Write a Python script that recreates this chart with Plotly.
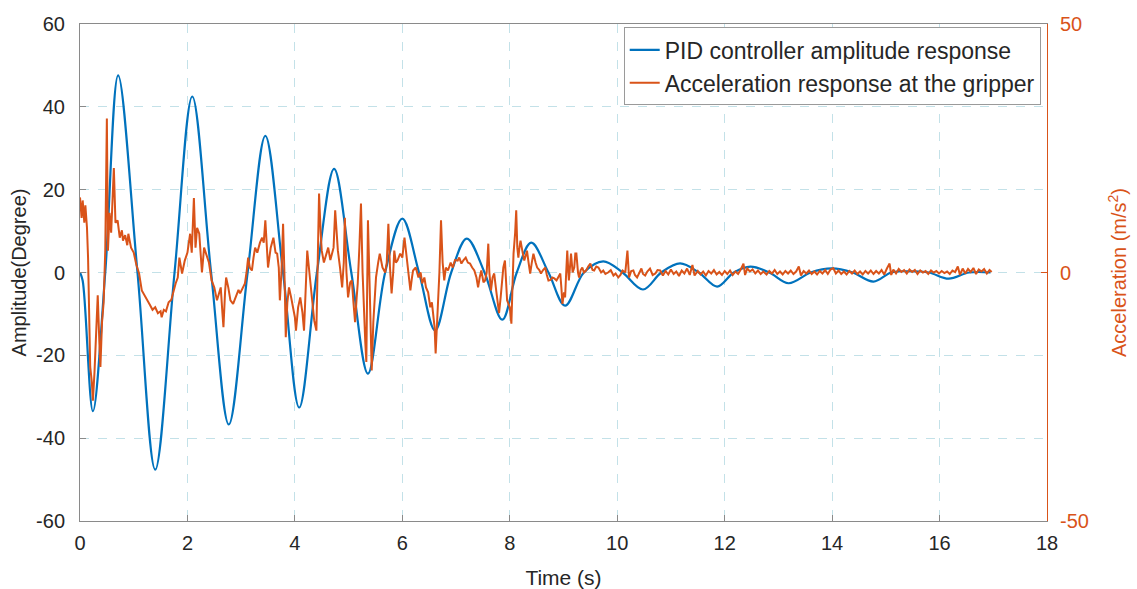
import plotly.graph_objects as go

# ---------------- data ----------------
# PID controller amplitude response (Degree) - extremes and zero crossings
t_pid = [0.00, 0.05, 0.24, 0.47, 0.71, 1.07, 1.40, 1.76, 2.09, 2.44,
         2.77, 3.12, 3.45, 3.78, 4.08, 4.41, 4.73, 5.05, 5.36, 5.68,
         6.00, 6.31, 6.61, 6.91, 7.20, 7.53, 7.86, 8.13, 8.40, 8.72,
         9.03, 9.38, 9.74, 10.10, 10.48, 10.82, 11.17, 11.52, 11.86, 12.17,
         12.48, 12.83, 13.19, 13.60, 14.00, 14.38, 14.77, 15.10, 15.45, 15.80,
         16.17, 16.55, 16.95]
amp_pid = [0, -2, -33.5, 0, 47.6, 0, -47.6, 0, 42.5, 0,
           -36.7, 0, 33, 0, -32.6, 0, 25, 0, -24.4, 0,
           13, 0, -14, 0, 8.2, 0, -11.4, 0, 7.2, 0,
           -8, 0, 2.7, 0, -4.1, 0, 2.2, 0, -3.4, 0,
           1.4, 0, -2.6, 0, 1.0, 0, -2.2, 0, 0.3, 0,
           -1.5, 0, 0]

# Acceleration response at the gripper (m/s^2)
t_acc = [0.00, 0.03, 0.05, 0.08, 0.10, 0.13, 0.15, 0.17, 0.19, 0.22,
         0.24, 0.27, 0.30, 0.33, 0.36, 0.38, 0.41, 0.44, 0.47, 0.50,
         0.52, 0.55, 0.58, 0.61, 0.63, 0.66, 0.70, 0.74, 0.78, 0.80,
         0.84, 0.88, 0.90, 0.95, 1.00, 1.05, 1.10, 1.15, 1.20, 1.25,
         1.30, 1.35, 1.40, 1.45, 1.50, 1.52, 1.56, 1.60, 1.65, 1.70,
         1.74, 1.78, 1.82, 1.85, 1.90, 1.95, 2.00, 2.05, 2.08, 2.12,
         2.15, 2.18, 2.22, 2.27, 2.31, 2.35, 2.40, 2.45, 2.50, 2.55,
         2.60, 2.62, 2.65, 2.67, 2.70, 2.72, 2.76, 2.80, 2.85, 2.90,
         2.95, 2.98, 3.03, 3.07, 3.10, 3.13, 3.16, 3.20, 3.23, 3.26,
         3.30, 3.35, 3.39, 3.42, 3.45, 3.48, 3.50, 3.55, 3.60, 3.64,
         3.67, 3.70, 3.72, 3.75, 3.78, 3.81, 3.83, 3.86, 3.89, 3.93,
         3.97, 4.00, 4.02, 4.06, 4.10, 4.14, 4.17, 4.20, 4.23, 4.27,
         4.30, 4.33, 4.36, 4.40, 4.42, 4.45, 4.48, 4.50, 4.54, 4.57,
         4.62, 4.66, 4.69, 4.72, 4.75, 4.78, 4.80, 4.84, 4.88, 4.91,
         4.93, 4.96, 4.99, 5.03, 5.06, 5.09, 5.12, 5.15, 5.17, 5.20,
         5.23, 5.26, 5.29, 5.31, 5.33, 5.35, 5.36, 5.39, 5.41, 5.43,
         5.46, 5.51, 5.55, 5.58, 5.63, 5.68, 5.71, 5.74, 5.77, 5.80,
         5.83, 5.85, 5.88, 5.91, 5.96, 6.00, 6.04, 6.07, 6.09, 6.12,
         6.15, 6.18, 6.20, 6.25, 6.30, 6.34, 6.37, 6.41, 6.44, 6.48,
         6.52, 6.55, 6.58, 6.60, 6.62, 6.64, 6.66, 6.69, 6.72, 6.75,
         6.78, 6.81, 6.85, 6.90, 6.94, 6.98, 7.03, 7.06, 7.10, 7.14,
         7.18, 7.22, 7.26, 7.30, 7.34, 7.38, 7.41, 7.44, 7.47, 7.51,
         7.54, 7.57, 7.60, 7.62, 7.65, 7.68, 7.71, 7.74, 7.77, 7.80,
         7.83, 7.86, 7.88, 7.91, 7.93, 7.95, 8.00, 8.03, 8.05, 8.07,
         8.10, 8.12, 8.14, 8.16, 8.18, 8.20, 8.24, 8.27, 8.30, 8.32,
         8.35, 8.38, 8.41, 8.44, 8.48, 8.51, 8.55, 8.58, 8.62, 8.66,
         8.69, 8.72, 8.76, 8.79, 8.83, 8.87, 8.90, 8.94, 8.96, 8.98,
         9.01, 9.03, 9.05, 9.07, 9.09, 9.10, 9.12, 9.14, 9.17, 9.20,
         9.22, 9.24, 9.27, 9.29, 9.32, 9.35, 9.38, 9.42, 9.46, 9.50,
         9.54, 9.57, 9.61, 9.65, 9.70, 9.74, 9.78, 9.83, 9.88, 9.93,
         9.97, 10.02, 10.06, 10.10, 10.15, 10.19, 10.22, 10.26, 10.30, 10.33,
         10.37, 10.41, 10.45, 10.48, 10.52, 10.56, 10.61, 10.66, 10.71, 10.75,
         10.80, 10.85, 10.90, 10.95, 11.00, 11.05, 11.10, 11.15, 11.20, 11.25,
         11.30, 11.35, 11.40, 11.44, 11.50, 11.55, 11.60, 11.65, 11.70, 11.75,
         11.80, 11.85, 11.90, 11.95, 12.00, 12.05, 12.10, 12.15, 12.20, 12.25,
         12.30, 12.35, 12.38, 12.42, 12.47, 12.52, 12.57, 12.62, 12.67, 12.72,
         12.78, 12.83, 12.88, 12.93, 12.98, 13.03, 13.08, 13.13, 13.18, 13.23,
         13.28, 13.33, 13.38, 13.42, 13.47, 13.52, 13.57, 13.62, 13.67, 13.72,
         13.77, 13.82, 13.87, 13.92, 13.97, 14.02, 14.07, 14.12, 14.17, 14.22,
         14.27, 14.32, 14.37, 14.42, 14.47, 14.52, 14.57, 14.62, 14.67, 14.72,
         14.77, 14.82, 14.87, 14.92, 14.97, 15.02, 15.07, 15.10, 15.14, 15.19,
         15.24, 15.29, 15.34, 15.39, 15.44, 15.49, 15.54, 15.59, 15.64, 15.69,
         15.74, 15.79, 15.84, 15.89, 15.94, 15.99, 16.04, 16.09, 16.14, 16.19,
         16.24, 16.29, 16.34, 16.38, 16.43, 16.48, 16.53, 16.58, 16.63, 16.68,
         16.73, 16.78, 16.83, 16.88, 16.93, 16.97]
acc = [15.1, 11, 14.5, 10, 13.5, 9, 3, -10, -19, -22,
       -25.8, -20, -12, -4.6, -14, -19, -10, -6, 4.4, 31,
       4.4, 12, 8, 16, 21, 10, 10.5, 7, 8.5, 6.4,
       7.5, 5.5, 7.8, 5, 4, 1.5, -0.2, -3.6, -4.5, -5.6,
       -6.5, -7.5, -7.0, -8.2, -7.8, -9.0, -7.5, -7.8, -6.0, -5.5,
       -3.5, -2.2, -1, 3, -0.2, 2.4, 4, 7.8, 4, 15,
       5, 9, 7.8, 0, 5, 3.8, 2, -1.6, -3, -5.6,
       -4, -3, -8, -11, -4, -1, -3, -5.6, -6.3, -5,
       -3.5, -4.2, -3, -2.2, 0, 3, 1, 0.4, 3, 5,
       4, 6, 7, 6, 10.5, 4, 1, 5, 7, 4,
       3.8, 1, -5.6, 0, 9.8, -2, -13, -6, -3, -5,
       -7.6, -9, -11.7, -7, -5, -8, -11.7, -2, 4.4, 0,
       -3, -6, -9.7, -11.7, -2, 15.9, 8, 4.4, 2, 3,
       5, 2.5, 3.8, 5, 12.5, 6, 4.4, 1, -3, 2,
       11, 0, -5, -2, -1.6, -6, -10, -5, -2.2, 5,
       13.9, 0, -9.7, -14, -18, -5, 10.5, -2, -12, -19.7,
       -10, -1, 2, 3.8, 1, 0, 2, 9.8, 1, -4.2,
       0, 4.4, 2, 2.4, 3.8, 3, 7, 4, 2.4, 0,
       -3.6, -1, 0.4, 1, -1, 0, -2.2, -1, -3, -4,
       -7, -6, -9, -11, -16.3, -10, -7, 0, 10.5, 2,
       -1.6, 1, 0.4, 2, 1, 2.5, 2.4, 3, 1.8, 2.5,
       3, 2, 1.8, 1, 0.4, -1, -3, -1, 0.4, -2,
       -1.6, 0, 5.8, 0, -3.6, -1, -0.2, -3, -5.6, -8.2,
       -5, -1, 1, 2.4, -2, -5.6, -7, -10.3, -3, 3.8,
       8, 12.5, 5, 3, 5, 6.4, 4, 2.4, 3.5, 4.4,
       2, -0.2, 2, 3.8, 2, 1, 0.5, -0.2, 0.5, 1,
       -0.5, -1.6, -1.5, -1, -1.2, -1.6, -1, -0.2, -3, -6.3,
       -4, -5, 0, 4.4, 0, -1.6, 1, 3.8, 0, 1,
       3.8, 3.8, 0, -1, 0.5, 1, 0, 0.4, 1.2, 1.8,
       0.5, 0.4, 1.2, 1, 0, 0.4, -0.3, 0, 0.5, -0.6,
       -0.2, -1, -0.5, 0.4, 0, 4.4, -1, 0.3, 0.4, -0.5,
       -1, 0, 0.8, -0.3, -0.6, 0.2, 0.8, -0.5, -0.2, 0.5,
       0.4, -0.6, 0.3, -0.4, 0.6, -0.3, 0.2, -0.7, 0.4, -0.2,
       0.8, -0.5, 1.5, -0.6, 0.3, -0.4, 0.2, -0.6, 0.3, -0.2,
       0.5, -0.4, 0.1, -0.5, 0.3, -0.3, 0.4, -0.5, 0.2, -0.3,
       0.6, 1.8, -0.5, 0.8, 0.2, 0.6, -0.2, 0.4, -0.3, 0.2,
       -0.4, 0.3, -0.2, 0.5, -0.3, 0.2, -0.4, 0.3, -0.2, 0.4,
       -0.3, 0.2, 1.2, -0.6, 0.3, -0.2, 0.4, -0.3, 0.2, -0.4,
       0.3, -0.2, 0.5, -0.3, 0.6, 0.9, -0.2, 0.4, -0.3, 0.2,
       -0.4, 0.3, -0.2, 0.4, -0.3, 0.2, -0.4, 0.3, -0.2, 0.4,
       -0.3, 0.3, -0.2, 0.5, -0.4, 0.8, 1.8, -0.5, 0.6, -0.2,
       0.7, 0.1, 0.5, -0.2, 0.6, 0.1, 0.5, -0.3, 0.4, 0,
       0.3, -0.3, 0.4, 0, 0.3, -0.2, 0.3, -0.1, 0.2, -0.3,
       0.4, 0.1, 1.2, -0.5, 0.8, -0.2, 0.7, 0.1, 0.9, -0.3,
       0.6, 0.2, 0.7, -0.2, 0.5, 0.1]

x_ticks = [0, 2, 4, 6, 8, 10, 12, 14, 16, 18]
y_left_ticks = [-60, -40, -20, 0, 20, 40, 60]
y_right_ticks = [-50, 0, 50]

# ---------------- styling ----------------
BLUE = "#0072BD"
ORANGE = "#D95319"
AXIS_GRAY = "#8a8a8a"
GRID = "rgba(170,212,222,0.7)"
FONT = "Liberation Sans, Arial, sans-serif"
TEXT = "#262626"

fig = go.Figure()
fig.add_trace(go.Scatter(
    x=t_pid, y=amp_pid, mode="lines", name="PID controller amplitude response",
    line=dict(color=BLUE, width=2.2, shape="spline", smoothing=1.0),
    yaxis="y"))
fig.add_trace(go.Scatter(
    x=t_acc, y=acc, mode="lines", name="Acceleration response at the gripper",
    line=dict(color=ORANGE, width=2), yaxis="y2"))

fig.update_layout(
    width=1137, height=589,
    margin=dict(l=80, r=90, t=24, b=68, autoexpand=False),
    paper_bgcolor="white", plot_bgcolor="white",
    font=dict(family=FONT, size=20, color=TEXT),
    showlegend=True,
    legend=dict(x=0.9935, y=0.993, xanchor="right", yanchor="top",
                bgcolor="white", bordercolor="#9a9a9a", borderwidth=1,
                font=dict(family=FONT, size=23, color=TEXT),
                tracegroupgap=0, itemwidth=30),
    xaxis=dict(range=[0, 18], tickvals=x_ticks, ticktext=[str(v) for v in x_ticks],
               showline=True, linecolor=AXIS_GRAY, automargin=False,
               linewidth=1, mirror=True, ticks="inside", ticklen=6, tickcolor=AXIS_GRAY,
               showgrid=True, gridcolor=GRID, griddash="dash", gridwidth=1,
               zeroline=False, tickfont=dict(size=20, color=TEXT), ticklabelstandoff=4,
               title=dict(text="Time (s)", font=dict(size=21, color=TEXT), standoff=18)),
    yaxis=dict(range=[-60, 60], tickvals=y_left_ticks, ticktext=[str(v) for v in y_left_ticks],
               showline=True, linecolor=AXIS_GRAY, automargin=False,
               linewidth=1, mirror=False, ticks="inside", ticklen=6, tickcolor=AXIS_GRAY,
               showgrid=True, gridcolor=GRID, griddash="dash", gridwidth=1,
               zeroline=False, tickfont=dict(size=20, color=TEXT), ticklabelstandoff=10,
               title=dict(text="Amplitude(Degree)", font=dict(size=20, color=TEXT), standoff=4)),
    yaxis2=dict(range=[-50, 50], tickvals=y_right_ticks, ticktext=[str(v) for v in y_right_ticks],
                overlaying="y", side="right", automargin=False,
                showline=True, linecolor=ORANGE, linewidth=1, ticks="inside", ticklen=6,
                tickcolor=ORANGE, showgrid=False, zeroline=False,
                tickfont=dict(size=20, color=ORANGE), ticklabelstandoff=8,
                title=dict(text="Acceleration (m/s<sup>2</sup>)",
                           font=dict(size=20, color=ORANGE), standoff=24)),
)

fig.write_html("out.html")
